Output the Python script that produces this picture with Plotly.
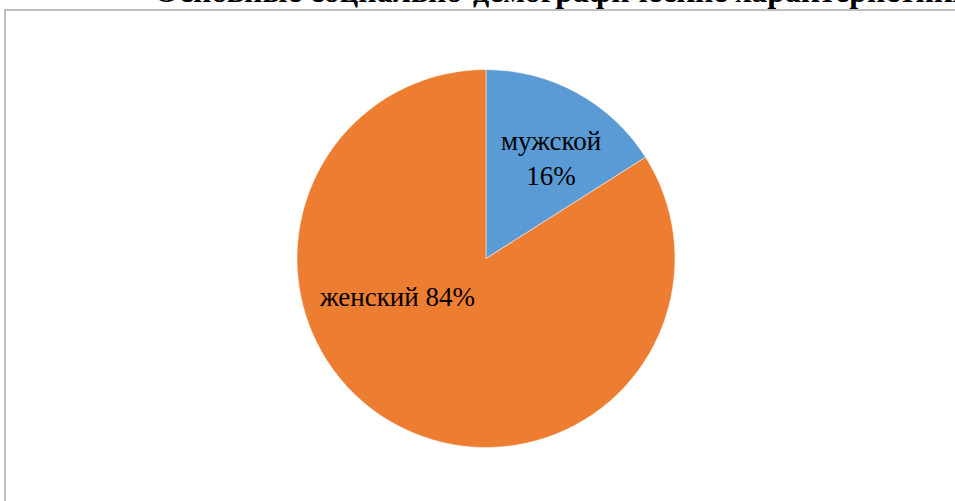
import plotly.graph_objects as go

categories = ["мужской", "женский"]
values = [16, 84]
colors = ["#5B9BD5", "#ED7D31"]
title_text = "Основные социально-демографические характеристики"

W, H = 955, 501
cx, cy, r = 486, 258.5, 189

fig = go.Figure(go.Pie(
    labels=categories, values=values, sort=False, direction="clockwise",
    rotation=0, marker=dict(colors=colors, line=dict(color="white", width=0.5)),
    textinfo="none", hoverinfo="label+percent", showlegend=False,
    domain=dict(x=[(cx - r) / W, (cx + r) / W], y=[1 - (cy + r) / H, 1 - (cy - r) / H]),
))

total = sum(values)
label_pos = [(551, 158, "<br>"), (397, 297, " ")]
for cat, v, (px, py, sep) in zip(categories, values, label_pos):
    fig.add_annotation(
        x=px / W, y=1 - py / H, xref="paper", yref="paper",
        text=f"{cat}{sep}{round(v / total * 100)}%", showarrow=False,
        font=dict(family="Liberation Serif", size=27, color="black"),
        xanchor="center", yanchor="middle", align="center",
    )

fig.add_annotation(
    x=152 / W, y=1 - 11 / H, xref="paper", yref="paper", text=f"<b>{title_text}</b>",
    showarrow=False, xanchor="left", yanchor="bottom",
    font=dict(family="Liberation Serif", size=32, color="black"),
)

fig.add_shape(type="rect", xref="paper", yref="paper",
              x0=5 / W, x1=1.05, y0=-0.05, y1=1 - 10 / H,
              line=dict(color="#BFBFBF", width=2), fillcolor="rgba(0,0,0,0)")

fig.update_layout(width=W, height=H, margin=dict(l=0, r=0, t=0, b=0),
                  paper_bgcolor="white", plot_bgcolor="white")
fig.write_html("out.html", config={"displayModeBar": False},
               post_script="document.body.style.margin='0';document.body.style.overflow='hidden';")
